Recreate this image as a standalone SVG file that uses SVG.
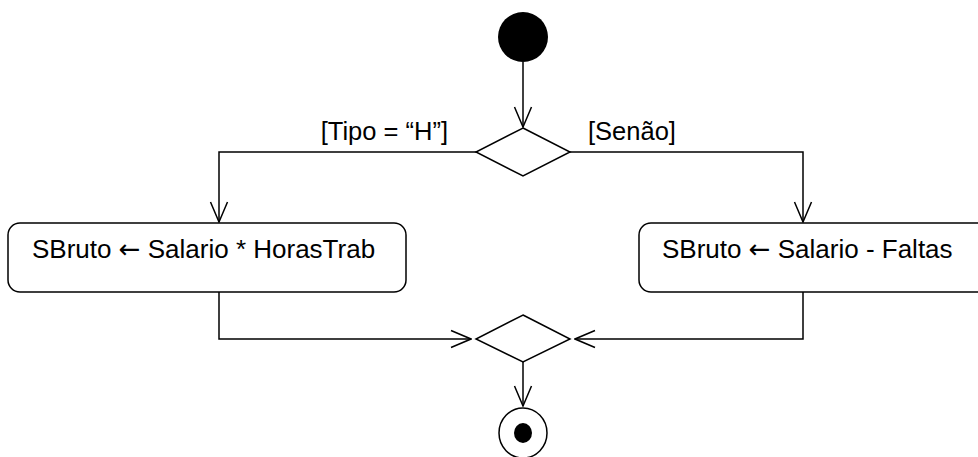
<svg xmlns="http://www.w3.org/2000/svg" width="978" height="457" viewBox="0 0 978 457">
  <style>
    .line { fill: none; stroke: #000; stroke-width: 1.5; }
    .shape { fill: #fff; stroke: #000; stroke-width: 1.5; }
    .label { font-family: "Liberation Sans", Arial, sans-serif; font-size: 25.5px; fill: #000; }
    .action { font-family: "Liberation Sans", Arial, sans-serif; font-size: 26px; fill: #000; }
    .sym { font-family: "DejaVu Sans", sans-serif; }
  </style>
  <defs>
    <marker id="open-arrow" viewBox="0 0 22 20" refX="21" refY="10" markerWidth="22" markerHeight="20" markerUnits="userSpaceOnUse" orient="auto">
      <path d="M1,1.5 L21,10 L1,18.5" fill="none" stroke="#000" stroke-width="1.5"/>
    </marker>
  </defs>

  <g id="connectors">
    <path class="line" d="M523,62 V127" marker-end="url(#open-arrow)"/>
    <path class="line" d="M476,152 H219 V222" marker-end="url(#open-arrow)"/>
    <path class="line" d="M570,152 H803 V222" marker-end="url(#open-arrow)"/>
    <path class="line" d="M219,292 V339 H471" marker-end="url(#open-arrow)"/>
    <path class="line" d="M803,292 V339 H575" marker-end="url(#open-arrow)"/>
    <path class="line" d="M523,362 V406" marker-end="url(#open-arrow)"/>
  </g>

  <g id="start">
    <circle cx="523" cy="37" r="25" fill="#000"/>
  </g>

  <g id="decision">
    <polygon class="shape" points="523,128 570,152 523,176 476,152"/>
    <text class="label" x="448" y="140" text-anchor="end">[Tipo = “H”]</text>
    <text class="label" x="588" y="140">[Senão]</text>
  </g>

  <g id="action-horas">
    <rect class="shape" x="8" y="223" width="398" height="69" rx="12"/>
    <text class="action" x="32" y="258">SBruto <tspan class="sym">←</tspan> Salario * HorasTrab</text>
  </g>

  <g id="action-faltas">
    <rect class="shape" x="639" y="223" width="380" height="69" rx="12"/>
    <text class="action" x="662" y="258">SBruto <tspan class="sym">←</tspan> Salario - Faltas</text>
  </g>

  <g id="merge">
    <polygon class="shape" points="523,315 570,339 523,362 476,339"/>
  </g>

  <g id="end">
    <ellipse class="shape" cx="523" cy="433" rx="24" ry="25"/>
    <ellipse cx="523" cy="433" rx="9" ry="10" fill="#000"/>
  </g>
</svg>
